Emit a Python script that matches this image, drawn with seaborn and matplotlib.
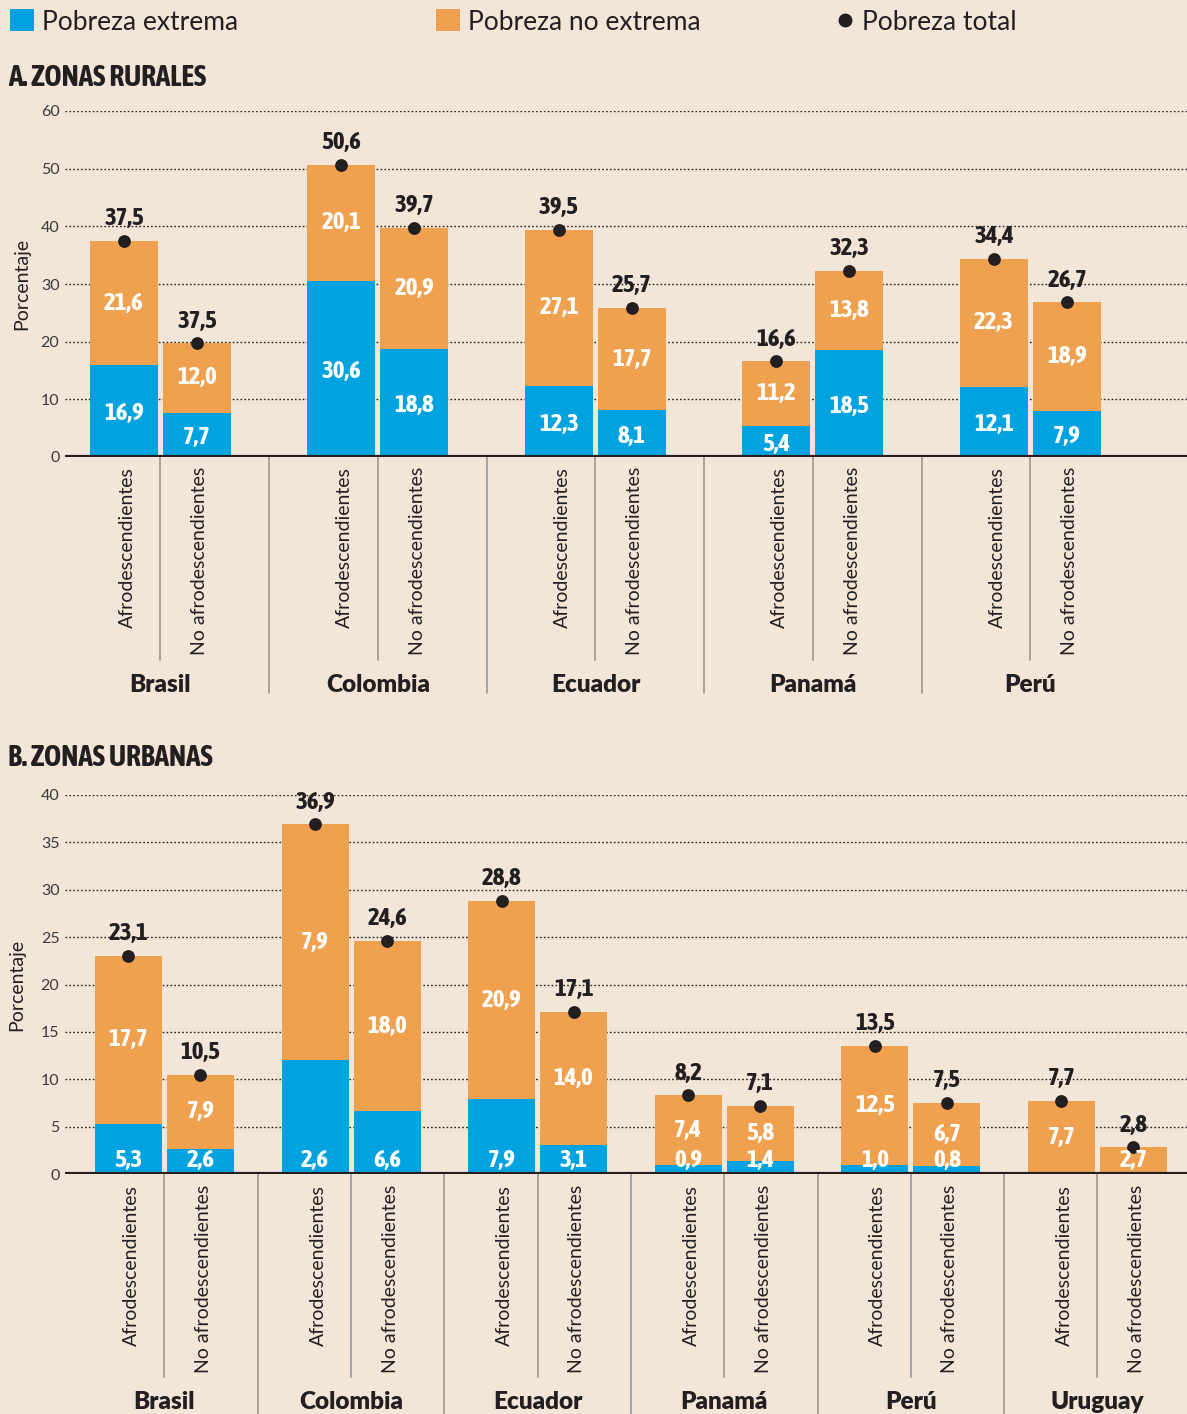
import numpy as np
import pandas as pd
import matplotlib
matplotlib.use('Agg')
import matplotlib.pyplot as plt
import matplotlib.transforms as mtransforms
from matplotlib import font_manager as fm
from matplotlib.patches import Patch
from matplotlib.lines import Line2D
import seaborn as sns

# --- datos (orden: Afro, No afro por país) ---
grupos = ['Afrodescendientes', 'No afrodescendientes']

paises_rural = ['Brasil', 'Colombia', 'Ecuador', 'Panamá', 'Perú']
rural_extrema = [15.9, 7.7, 30.6, 18.8, 12.3, 8.1, 5.4, 18.5, 12.1, 7.9]
rural_no_extrema = [21.6, 12.0, 20.1, 20.9, 27.1, 17.7, 11.2, 13.8, 22.3, 18.9]
rural_etq_extrema = ['16,9', '7,7', '30,6', '18,8', '12,3', '8,1', '5,4', '18,5', '12,1', '7,9']
rural_etq_no_extrema = ['21,6', '12,0', '20,1', '20,9', '27,1', '17,7', '11,2', '13,8', '22,3', '18,9']
rural_etq_total = ['37,5', '37,5', '50,6', '39,7', '39,5', '25,7', '16,6', '32,3', '34,4', '26,7']

paises_urbano = ['Brasil', 'Colombia', 'Ecuador', 'Panamá', 'Perú', 'Uruguay']
urbano_extrema = [5.3, 2.6, 12.0, 6.6, 7.9, 3.1, 0.9, 1.4, 1.0, 0.8, 0.0, 0.1]
urbano_no_extrema = [17.7, 7.9, 24.9, 18.0, 20.9, 14.0, 7.4, 5.8, 12.5, 6.7, 7.7, 2.7]
urbano_etq_extrema = ['5,3', '2,6', '2,6', '6,6', '7,9', '3,1', '0,9', '1,4', '1,0', '0,8', '', '']
urbano_etq_no_extrema = ['17,7', '7,9', '7,9', '18,0', '20,9', '14,0', '7,4', '5,8', '12,5', '6,7', '7,7', '2,7']
urbano_etq_total = ['23,1', '10,5', '36,9', '24,6', '28,8', '17,1', '8,2', '7,1', '13,5', '7,5', '7,7', '2,8']

# --- estilo ---
AZUL = '#00A3E0'
NARANJA = '#F0A14F'
OSCURO = '#231F20'
FONDO = '#F3E5D8'
GRIS = '#9C9690'

W, H = 1187, 1414


def pick_narrow_font():
    """Finds a condensed family for the numbers and titles."""
    fonts = [(f.name, f.stretch) for f in fm.fontManager.ttflist]
    names = {n for n, _ in fonts}
    if 'Liberation Sans Narrow' in names:
        return dict(family=['Liberation Sans Narrow', 'DejaVu Sans'])
    for n, s in fonts:
        if 'Condensed' in n:
            return dict(family=[n, 'DejaVu Sans'])
    if ('DejaVu Sans', 'condensed') in fonts:
        return dict(family=['DejaVu Sans'], fontstretch='condensed')
    return dict(family=['Roboto', 'DejaVu Sans'])


NUM = pick_narrow_font()


def fy(py):
    """Pixel row (from top) to figure fraction."""
    return 1 - py / H


def draw_panel(fig, paises, ext, non, etq_ext, etq_non, etq_tot, spec):
    ax = fig.add_axes([65 / W, fy(spec['base']), (W - 65) / W,
                       (spec['base'] - spec['top']) / H])
    ax.set_facecolor(FONDO)

    n = len(paises)
    centros = spec['first'] + spec['step'] * np.arange(n)
    pos = np.column_stack([centros - spec['half'], centros + spec['half']]).ravel()
    df = pd.DataFrame({'pais': np.repeat(paises, 2), 'grupo': grupos * n,
                       'pos': pos, 'extrema': ext, 'no_extrema': non})
    df['total'] = df['extrema'] + df['no_extrema']

    ancho = spec['bar'] / (2 * spec['half'])
    sns.barplot(data=df, x='pos', y='total', native_scale=True, orient='x',
                color=NARANJA, saturation=1, width=ancho, errorbar=None,
                linewidth=0, ax=ax, zorder=2)
    sns.barplot(data=df, x='pos', y='extrema', native_scale=True, orient='x',
                color=AZUL, saturation=1, width=ancho, errorbar=None,
                linewidth=0, ax=ax, zorder=2)
    sns.scatterplot(data=df, x='pos', y='total', color=OSCURO, s=85,
                    linewidth=0, zorder=5, legend=False, ax=ax)

    ax.set_xlim(65, W)
    ax.set_ylim(0, spec['ymax'])
    ax.set_yticks(np.arange(0, spec['ymax'] + 1, spec['ystep']))
    ax.set_xticks([])
    ax.set_xlabel('')
    ax.set_ylabel('Porcentaje', fontsize=14, color=OSCURO)
    ax.yaxis.set_label_coords(spec['ylab_x'], 0.5)
    ax.tick_params(axis='y', length=0, pad=4, labelsize=11.5, labelcolor='#3a3a3a')
    ax.yaxis.grid(True, color=OSCURO, linestyle=(0, (1.2, 1.6)), linewidth=1)
    ax.xaxis.grid(False)
    ax.set_axisbelow(True)
    for s in ax.spines.values():
        s.set_visible(False)
    ax.axhline(0, color=OSCURO, lw=3, zorder=4)

    # etiquetas de valores
    txt = dict(ha='center', va='center', fontsize=18, fontweight='bold', zorder=6, **NUM)
    for i, row in df.iterrows():
        if etq_ext[i]:
            if spec['blue_base']:
                ax.annotate(etq_ext[i], (row['pos'], 0), xytext=(0, 9.5),
                            textcoords='offset points', color='white', **txt)
            else:
                ax.annotate(etq_ext[i], (row['pos'], row['extrema'] / 2),
                            xytext=(0, -2), textcoords='offset points',
                            color='white', **txt)
        ax.text(row['pos'], row['extrema'] + row['no_extrema'] / 2, etq_non[i],
                color='white', **txt)
        ax.annotate(etq_tot[i], (row['pos'], row['total']), xytext=(0, 16),
                    textcoords='offset points', color=OSCURO,
                    annotation_clip=False, **txt)

    # ejes categóricos debajo
    blend = mtransforms.blended_transform_factory(ax.transData, fig.transFigure)
    y0 = fy(spec['base'])
    for i, row in df.iterrows():
        ax.text(row['pos'] + 3, fy(spec['lab_top']), row['grupo'], rotation=90,
                ha='center', va='top', fontsize=14, color=OSCURO,
                transform=blend)
    for c, pais in zip(centros, paises):
        ax.plot([c, c], [y0, fy(spec['inner_end'])], color=GRIS, lw=1.2,
                transform=blend, clip_on=False)
        ax.text(c, fy(spec['country_y']), pais, ha='center', va='center',
                fontsize=17.5, fontweight='heavy', color=OSCURO, transform=blend)
    for c in (centros[:-1] + centros[1:]) / 2:
        ax.plot([c, c], [y0, fy(spec['sep_end'])], color=GRIS, lw=1.2,
                transform=blend, clip_on=False)

    fig.text(8 / W, fy(spec['title_y']), spec['title'], ha='left', va='center',
             fontsize=21, fontweight='bold', color=OSCURO, **NUM)
    return ax


def main():
    sns.set_theme(style='white')
    plt.rcParams['font.family'] = ['Lato', 'DejaVu Sans']

    fig = plt.figure(figsize=(W / 100, H / 100), dpi=100, facecolor=FONDO)

    spec_rural = dict(top=111, base=457, ymax=60, ystep=10, first=160.5,
                      step=217.5, half=36.5, bar=68, inner_end=660, sep_end=693,
                      lab_top=467, country_y=685, title_y=77,
                      title='A. ZONAS RURALES', blue_base=False, ylab_x=-0.031)
    spec_urbano = dict(top=795, base=1174, ymax=40, ystep=5, first=164.5,
                       step=186.6, half=36, bar=67, inner_end=1377, sep_end=1414,
                       lab_top=1185, country_y=1402, title_y=758,
                       title='B. ZONAS URBANAS', blue_base=True, ylab_x=-0.035)

    draw_panel(fig, paises_rural, rural_extrema, rural_no_extrema,
               rural_etq_extrema, rural_etq_no_extrema, rural_etq_total, spec_rural)
    draw_panel(fig, paises_urbano, urbano_extrema, urbano_no_extrema,
               urbano_etq_extrema, urbano_etq_no_extrema, urbano_etq_total, spec_urbano)

    # leyenda superior
    items = [
        (Patch(facecolor=AZUL, edgecolor='none'), 'Pobreza extrema', 10, 0.92, 0.3),
        (Patch(facecolor=NARANJA, edgecolor='none'), 'Pobreza no extrema', 436, 0.92, 0.3),
        (Line2D([], [], marker='o', color=OSCURO, linestyle='none', markersize=9),
         'Pobreza total', 836, 0.65, 0.35),
    ]
    for handle, texto, x, hl, pad in items:
        fig.legend([handle], [texto], loc='center left',
                   bbox_to_anchor=(x / W, fy(22)), frameon=False, fontsize=19,
                   handlelength=hl, handleheight=0.9, handletextpad=pad,
                   borderpad=0, borderaxespad=0, labelcolor=OSCURO)

    fig.savefig('out.png', dpi=100, facecolor=FONDO)
    plt.close(fig)


if __name__ == '__main__':
    main()
